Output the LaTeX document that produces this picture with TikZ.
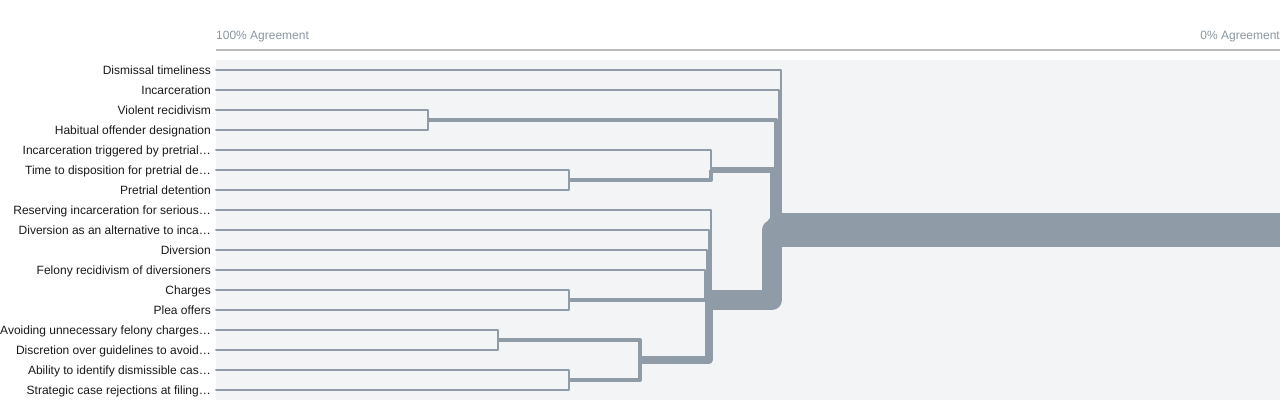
\documentclass[tikz,border=0pt]{standalone}
\usepackage{fontspec}
\setmainfont{Liberation Sans}
\usepackage{tikz}
\usetikzlibrary{positioning}
\definecolor{linkgray}{RGB}{143,155,166}
\definecolor{panelgray}{RGB}{243,244,246}
\definecolor{axisgray}{RGB}{187,187,187}
\definecolor{axistext}{RGB}{138,150,161}
\tikzstyle{leaflabel} = [anchor=east, inner xsep=5pt, inner ysep=0pt, text height=10pt, text depth=1.5pt, font=\fontsize{12}{14}\selectfont, text=black!90]
\tikzstyle{axislabel} = [inner sep=0pt, text height=10pt, text depth=1.5pt, font=\fontsize{12}{14}\selectfont, text=axistext]
\tikzstyle{link} = [draw, color=linkgray, line join=round, line cap=round]
\tikzstyle{branch} = [draw, color=linkgray, line join=round, line cap=butt]
\tikzstyle{axis} = [draw, color=axisgray, line width=1.5pt]
\newcommand{\leaflabel}[2]{node (l#1) [leaflabel] {#2}}
\newcommand{\cluster}[1]{coordinate (c#1)}

\begin{document}
\begin{tikzpicture}[x=1pt,y=-1pt]
\useasboundingbox (0,0) rectangle (1280,400);
\fill[panelgray] (216,60) rectangle (1280,400);

\path (216,35) node (a1) [axislabel, anchor=west] {100\% Agreement};
\path (1280,35) node (a2) [axislabel, anchor=east] {0\% Agreement};
\path (216,50) coordinate (x1);
\path (1280,50) coordinate (x2);
\path [axis] (x1) -- (x2);

\path (216,70) \leaflabel{1}{Dismissal timeliness};
\path (l1.east)+(0,20) \leaflabel{2}{Incarceration};
\path (l2.east)+(0,20) \leaflabel{3}{Violent recidivism};
\path (l3.east)+(0,20) \leaflabel{4}{Habitual offender designation};
\path (l4.east)+(0,20) \leaflabel{5}{Incarceration triggered by pretrial…};
\path (l5.east)+(0,20) \leaflabel{6}{Time to disposition for pretrial de…};
\path (l6.east)+(0,20) \leaflabel{7}{Pretrial detention};
\path (l7.east)+(0,20) \leaflabel{8}{Reserving incarceration for serious…};
\path (l8.east)+(0,20) \leaflabel{9}{Diversion as an alternative to inca…};
\path (l9.east)+(0,20) \leaflabel{10}{Diversion};
\path (l10.east)+(0,20) \leaflabel{11}{Felony recidivism of diversioners};
\path (l11.east)+(0,20) \leaflabel{12}{Charges};
\path (l12.east)+(0,20) \leaflabel{13}{Plea offers};
\path (l13.east)+(0,20) \leaflabel{14}{Avoiding unnecessary felony charges…};
\path (l14.east)+(0,20) \leaflabel{15}{Discretion over guidelines to avoid…};
\path (l15.east)+(0,20) \leaflabel{16}{Ability to identify dismissible cas…};
\path (l16.east)+(0,20) \leaflabel{17}{Strategic case rejections at filing…};

% merge points
\path (428,120) \cluster{1};
\path (569,180) \cluster{2};
\path (711,170) \cluster{3};
\path (569,300) \cluster{4};
\path (498,340) \cluster{5};
\path (569,380) \cluster{6};
\path (640,360) \cluster{7};
\path (711,300) \cluster{8};
\path (772,230) \cluster{9};
\path (1300,230) coordinate (r1);

% leaves
\path [link, line width=2] (l1.east) -| ([xshift=9]c9);
\path [link, line width=2] (l2.east) -| ([xshift=7]c9);
\path [link, line width=2] (l3.east) -| (c1);
\path [link, line width=2] (l4.east) -| (c1);
\path [link, line width=2] (l5.east) -| (c3);
\path [link, line width=2] (l6.east) -| (c2);
\path [link, line width=2] (l7.east) -| (c2);
\path [link, line width=2] (l8.east) -| (c8);
\path [link, line width=2] (l9.east) -| ([xshift=-2]c8);
\path [link, line width=2] (l10.east) -| ([xshift=-4]c8);
\path [link, line width=2] (l11.east) -| ([xshift=-6]c8);
\path [link, line width=2] (l12.east) -| (c4);
\path [link, line width=2] (l13.east) -| (c4);
\path [link, line width=2] (l14.east) -| (c5);
\path [link, line width=2] (l15.east) -| (c5);
\path [link, line width=2] (l16.east) -| (c6);
\path [link, line width=2] (l17.east) -| (c6);

% clusters
\path [branch, line width=4] (c1) -| ([xshift=4]c9);
\path [branch, line width=4] (c2) -| (c3);
\path [branch, line width=6] (c3) -| ([xshift=1]c9);
\path [branch, line width=4] (c4) -- (c8);
\path [branch, line width=4] (c5) -| (c7);
\path [branch, line width=4] (c6) -| (c7);
\path [branch, line width=8] (c7) -| ([xshift=-2.5]c8);
\path [branch, line width=20] ([xshift=-4]c8) -| (c9) -- ([xshift=10]c9);
\path [link, line width=34] ([xshift=10]c9) -- (r1);
\end{tikzpicture}
\end{document}
